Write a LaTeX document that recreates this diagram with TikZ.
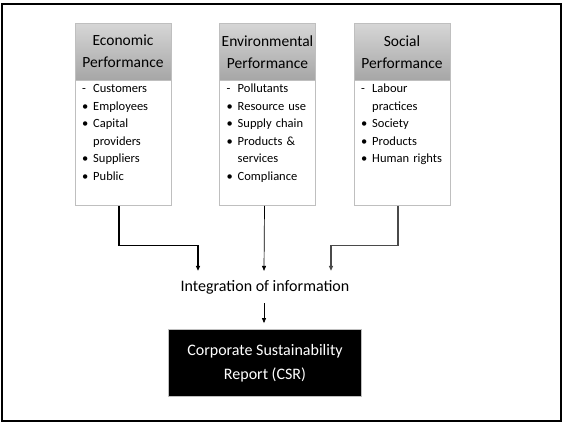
\documentclass[tikz,border=0pt]{standalone}
\usepackage{fontspec}
\setmainfont{Carlito}
\usetikzlibrary{arrows.meta, positioning, shadings}
\definecolor{grisBorde}{HTML}{BFBFBF}
\definecolor{grisAlto}{HTML}{D6D6D6}
\definecolor{grisBajo}{HTML}{A6A6A6}
\definecolor{grisFlecha}{HTML}{4A4A4A}

\begin{document}
\begin{tikzpicture}[x=1pt, y=-1pt,
        head/.style={draw=grisBorde, top color=grisAlto, bottom color=grisBajo, anchor=north,
            minimum width=96pt, minimum height=57pt, text width=94pt, inner sep=1pt, align=center,
            font=\fontsize{15.5}{22}\selectfont},
        body/.style={draw=grisBorde, fill=white, minimum width=96pt, text width=82pt,
            inner xsep=7pt, inner ysep=0pt, text height=12pt, text depth=113pt, align=left,
            font=\fontsize{12.5}{17.5}\selectfont},
        flow/.style={-{Triangle[length=5pt, width=4pt]}, black, line width=0.7pt},
        csr/.style={draw=grisBorde, fill=black, text=white, minimum width=193pt, minimum height=67pt,
            align=center, font=\fontsize{16}{24}\selectfont}
    ]
        \useasboundingbox (0,0) rectangle (563,424);
        \draw[line width=1.4pt] (2,4) rectangle (561,421);

        \node[head] (econHead) at (123,23) {Economic\\Performance};
        \node[head] (envHead) at (267.5,23) {Environmental\\Performance};
        \node[head] (socHead) at (402,23) {Social\\Performance};

        \node[body, below=0pt of econHead] (econBody) {%
            \begin{tabular}[t]{@{}l@{\hspace{5pt}}l@{}}
            - & Customers\\
            \textbullet & Employees\\
            \textbullet & Capital\\
                        & providers\\
            \textbullet & Suppliers\\
            \textbullet & Public
            \end{tabular}};
        \node[body, below=0pt of envHead] (envBody) {%
            \begin{tabular}[t]{@{}l@{\hspace{5pt}}l@{}}
            - & Pollutants\\
            \textbullet & Resource use\\
            \textbullet & Supply chain\\
            \textbullet & Products \&\\
                        & services\\
            \textbullet & Compliance
            \end{tabular}};
        \node[body, below=0pt of socHead] (socBody) {%
            \begin{tabular}[t]{@{}l@{\hspace{5pt}}l@{}}
            - & Labour\\
              & practices\\
            \textbullet & Society\\
            \textbullet & Products\\
            \textbullet & Human rights
            \end{tabular}};

        \node[inner xsep=2pt, inner ysep=9pt, font=\fontsize{16}{19}\selectfont] (integ) at (265,287) {Integration of information};
        \node[csr, below=26pt of integ] (report) {Corporate Sustainability\\Report (CSR)};

        \draw[flow, line width=1.2pt] ([xshift=-4pt]econBody.south) -- ++(0,40) -| ([xshift=-67pt]integ.north);
        \draw[flow] ([xshift=-3pt]envBody.south) -- ([xshift=-1pt]integ.north);
        \draw[flow, grisFlecha, line width=1.2pt] ([xshift=-4pt]socBody.south) -- ++(0,40) -| ([xshift=66pt]integ.north);
        \draw[flow, shorten >=6pt] ([xshift=-1pt]integ.south) -- ([xshift=-1pt]report.north);
\end{tikzpicture}
\end{document}
